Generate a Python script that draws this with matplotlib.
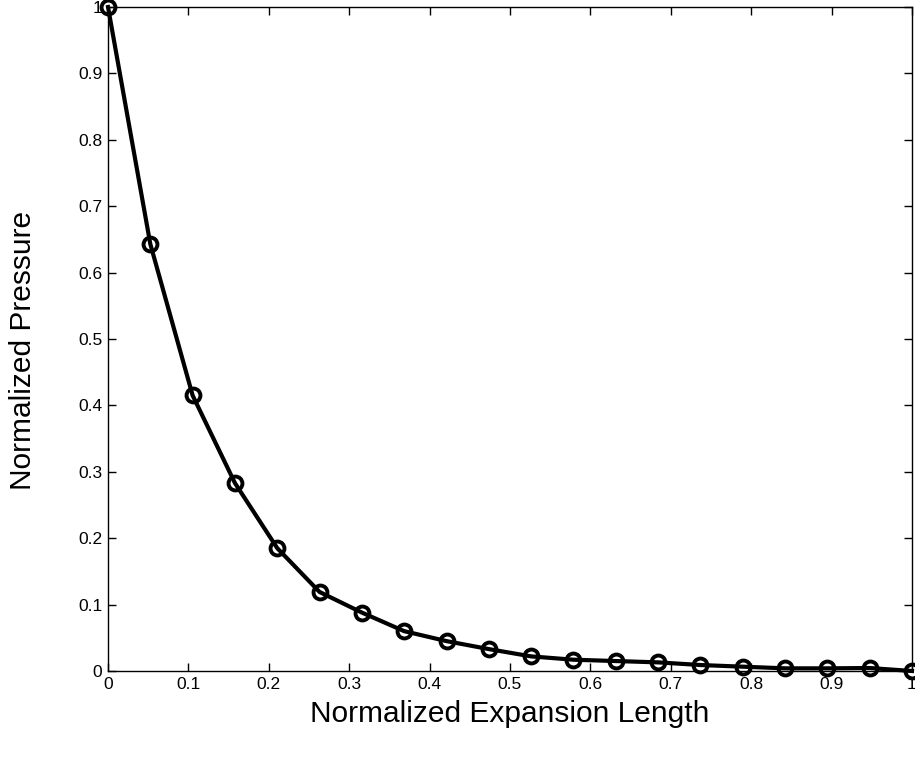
import numpy as np
import matplotlib.pyplot as plt
from matplotlib.ticker import FuncFormatter

plt.rcParams['font.family'] = ['Liberation Sans', 'DejaVu Sans']

# normalized expansion length (20 samples) and normalized pressure
x = np.linspace(0, 1, 20)
pressure = [1.0, 0.643, 0.415, 0.283, 0.185, 0.119, 0.088, 0.060, 0.045, 0.033,
            0.022, 0.017, 0.015, 0.013, 0.009, 0.0065, 0.004, 0.004, 0.0045, 0.0]

tick_vals = np.round(np.arange(0, 1.01, 0.1), 1)

fig = plt.figure(figsize=(9.15, 7.61), dpi=100)
ax = fig.add_axes([108 / 915, 90 / 761, 804 / 915, 664 / 761])

ax.plot(x, pressure, color='black', lw=3, marker='o', ms=10,
        mfc='none', mec='black', mew=2.8, clip_on=False, zorder=3)

ax.set_xlim(0, 1)
ax.set_ylim(0, 1)
ax.set_xticks(tick_vals)
ax.set_yticks(tick_vals)
fmt = FuncFormatter(lambda v, p: '%g' % v)
ax.xaxis.set_major_formatter(fmt)
ax.yaxis.set_major_formatter(fmt)
ax.tick_params(direction='in', length=6, width=1, top=True, right=True,
               labelsize=12.5, pad=4)
for s in ax.spines.values():
    s.set_linewidth(1)

ax.set_xlabel('Normalized Expansion Length', fontsize=21.5, labelpad=6)
ax.set_ylabel('Normalized Pressure', fontsize=21.5)
ax.yaxis.set_label_coords(-0.088, 0.483)

fig.savefig('out.png', dpi=100)
